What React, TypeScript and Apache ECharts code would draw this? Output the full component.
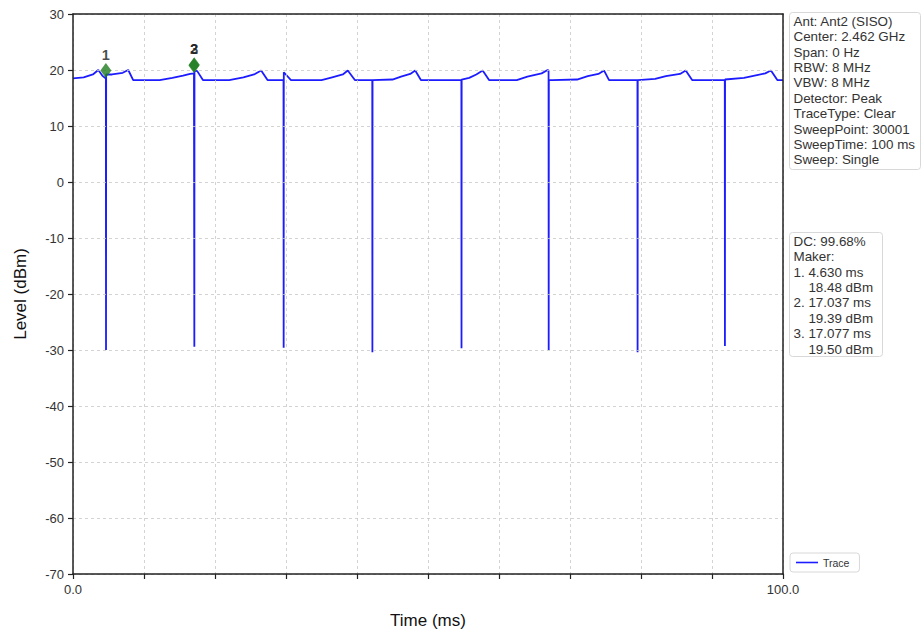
import React, { useEffect, useRef } from "react";
import * as echarts from "echarts";

const traceTimeMs = [
  0, 1.5, 2.8, 3.56, 4.2, 4.63, 4.65, 4.67, 5.5, 7.0, 7.78, 8.48, 12.2, 14.0, 15.5, 16.5,
  17.037, 17.077, 17.09, 17.11, 17.5, 18.3, 22.0, 24.0, 25.5, 26.5, 27.4, 29.65, 29.67, 29.69,
  30.7, 35.0, 36.5, 38.0, 38.7, 39.7, 42.15, 42.17, 42.19, 45.0, 46.2, 47.5, 48.2, 49.0,
  54.7, 54.72, 54.74, 55.8, 56.8, 57.7, 58.6, 62.5, 64.0, 66.0, 66.85, 66.98, 67.0, 67.02,
  67.5, 71.0, 72.5, 74.0, 74.8, 75.5, 79.5, 79.52, 79.54, 82.0, 83.5, 85.5, 86.3, 87.2,
  91.8, 91.82, 91.84, 94.5, 96.0, 97.5, 98.3, 99.2, 100,
];
const traceLevelDbm = [
  18.5, 18.7, 19.2, 20.0, 18.9, 18.48, -30.0, 19.2, 19.2, 19.5, 20.0, 18.2, 18.2, 18.6, 19.0, 19.3,
  19.39, 19.5, -29.4, 19.9, 19.8, 18.2, 18.2, 18.7, 19.2, 19.9, 18.2, 18.2, -29.6, 19.6,
  18.2, 18.2, 18.7, 19.2, 19.9, 18.2, 18.2, -30.4, 18.2, 18.3, 18.8, 19.3, 19.9, 18.2,
  18.2, -29.7, 18.3, 18.6, 19.2, 19.9, 18.2, 18.2, 18.8, 19.4, 20.0, 19.9, -30.0, 18.2,
  18.2, 18.3, 18.9, 19.3, 19.9, 18.2, 18.2, -30.4, 18.2, 18.4, 18.9, 19.3, 19.9, 18.2,
  18.2, -29.3, 18.3, 18.6, 19.0, 19.4, 19.9, 18.2, 18.2,
];

const markerNames = ["1", "2", "3"];
const markerTimeMs = [4.63, 17.037, 17.077];
const markerLevelDbm = [18.48, 19.39, 19.5];

const xTickLabels: Record<number, string> = { 0: "0.0", 100: "100.0" };

const settingLines = [
  "Ant: Ant2 (SISO)",
  "Center: 2.462 GHz",
  "Span: 0 Hz",
  "RBW: 8 MHz",
  "VBW: 8 MHz",
  "Detector: Peak",
  "TraceType: Clear",
  "SweepPoint: 30001",
  "SweepTime: 100 ms",
  "Sweep: Single",
];
const markerInfoLines = [
  "DC: 99.68%",
  "Maker:",
  "1. 4.630 ms",
  "    18.48 dBm",
  "2. 17.037 ms",
  "    19.39 dBm",
  "3. 17.077 ms",
  "    19.50 dBm",
];

const FONT = "'Liberation Sans', Arial, Helvetica, sans-serif";

export default function App() {
  const ref = useRef<HTMLDivElement>(null);
  useEffect(() => {
    document.body.style.margin = "0";
    if (!ref.current) return;
    const chart = echarts.init(ref.current, undefined, { renderer: "svg" });
    const trace = traceTimeMs.map((t, i) => [t, traceLevelDbm[i]]);
    const markers = markerTimeMs.map((t, i) => ({ name: markerNames[i], value: [t, markerLevelDbm[i]] }));
    const lh = 15.4;
    const frameAxis = {
      show: true,
      axisLine: { show: true, onZero: false, lineStyle: { color: "#222", width: 1.5 } },
      axisTick: { show: false },
      axisLabel: { show: false },
      splitLine: { show: false },
    };
    const grid = { color: "#c8c8c8", type: [3, 3], width: 0.8 };
    chart.setOption({
      animation: false,
      textStyle: { fontFamily: FONT },
      grid: {
        left: 73,
        right: 140,
        top: 14,
        bottom: 63,
      },
      legend: {
        data: [{ name: "Trace", icon: "rect" }],
        left: 790,
        top: 553,
        orient: "vertical",
        itemWidth: 22,
        itemHeight: 1.6,
        itemGap: 4,
        padding: [4, 10, 4, 6],
        borderColor: "#d8d8d8",
        borderWidth: 1,
        borderRadius: 3,
        backgroundColor: "#fff",
        textStyle: { fontSize: 10.5, color: "#333", fontFamily: FONT },
      },
      xAxis: [
        {
          type: "value",
          min: 0,
          max: 100,
          interval: 10,
          name: "Time (ms)",
          nameLocation: "middle",
          nameGap: 38,
          nameTextStyle: { fontSize: 17, color: "#111", fontFamily: FONT },
          axisLine: { show: true, onZero: false, lineStyle: { color: "#222", width: 1.5 } },
          axisTick: { show: true, length: 5, lineStyle: { color: "#222", width: 1.2 } },
          axisLabel: {
            fontSize: 13,
            color: "#333",
            margin: 9,
            showMinLabel: true,
            showMaxLabel: true,
            formatter: (v: number) => xTickLabels[v] ?? "",
          },
          splitLine: { show: true, lineStyle: grid },
          z: 4,
        },
        { type: "value", min: 0, max: 100, position: "top", ...frameAxis, z: 4 },
      ],
      yAxis: [
        {
          type: "value",
          min: -70,
          max: 30,
          interval: 10,
          name: "Level (dBm)",
          nameLocation: "middle",
          nameGap: 44,
          nameTextStyle: { fontSize: 17, color: "#111", fontFamily: FONT },
          axisLine: { show: true, onZero: false, lineStyle: { color: "#222", width: 1.5 } },
          axisTick: { show: true, length: 5, lineStyle: { color: "#222", width: 1.2 } },
          axisLabel: { fontSize: 13, color: "#333", margin: 9 },
          splitLine: { show: true, lineStyle: grid },
          z: 4,
        },
        { type: "value", min: -70, max: 30, position: "right", ...frameAxis, z: 4 },
      ],
      series: [
        {
          name: "Trace",
          type: "line",
          data: trace,
          symbol: "none",
          showSymbol: false,
          color: "#1c1cff",
          lineStyle: { color: "#1c1cff", width: 1.8 },
          z: 3,
        },
        {
          name: "Markers",
          type: "scatter",
          data: markers,
          symbol: "diamond",
          symbolSize: [11, 15],
          symbolOffset: [0, -8],
          itemStyle: { color: "#1f7d1f" },
          label: {
            show: true,
            position: "top",
            distance: 1,
            offset: [0, 0],
            formatter: (p: any) => p.name,
            fontSize: 14.5,
            fontWeight: "bold",
            color: "#1a1a1a",
            fontFamily: FONT,
          },
          z: 5,
        },
      ],
      graphic: [
        {
          type: "group",
          left: 789,
          top: 12,
          children: [
            {
              type: "rect",
              shape: { x: 0, y: 0, width: 131, height: 157, r: 3 },
              style: { fill: "#fff", stroke: "#d8d8d8", lineWidth: 1 },
            },
            {
              type: "text",
              x: 4,
              y: 1,
              style: {
                text: settingLines.join("\n"),
                fontSize: 13.4,
                lineHeight: lh,
                fill: "#333",
                fontFamily: FONT,
              },
            },
          ],
        },
        {
          type: "group",
          left: 789,
          top: 232,
          children: [
            {
              type: "rect",
              shape: { x: 0, y: 0, width: 93, height: 124, r: 3 },
              style: { fill: "#fff", stroke: "#d8d8d8", lineWidth: 1 },
            },
            {
              type: "text",
              x: 4,
              y: 1,
              style: {
                text: markerInfoLines.join("\n"),
                fontSize: 13.4,
                lineHeight: lh,
                fill: "#333",
                fontFamily: FONT,
              },
            },
          ],
        },
      ],
    });
    return () => chart.dispose();
  }, []);
  return <div ref={ref} style={{ width: 923, height: 637 }} />;
}
